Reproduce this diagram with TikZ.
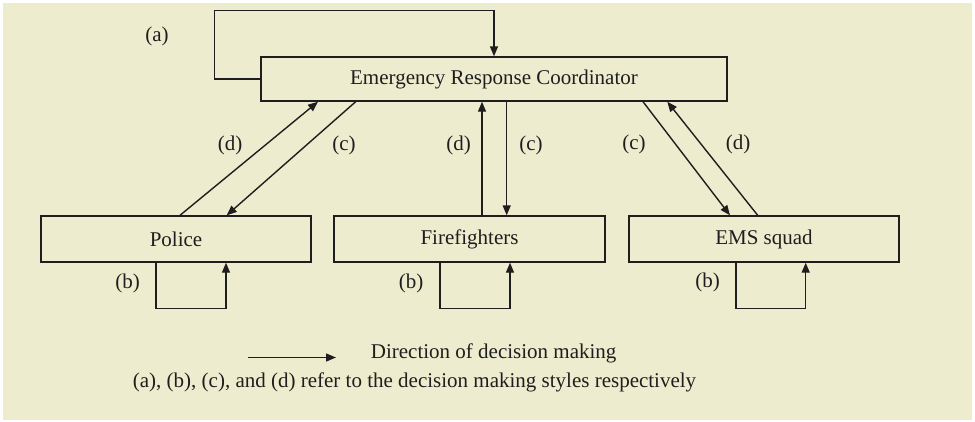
\documentclass[tikz,border=0pt]{standalone}
\usepackage{fontspec}
\setmainfont{Liberation Serif}
\usetikzlibrary{arrows.meta}
\definecolor{paper}{RGB}{238,236,206}
\definecolor{ink}{RGB}{30,30,30}
\begin{document}
\begin{tikzpicture}[x=1pt,y=-1pt,
  every node/.style={font=\fontsize{21}{25}\selectfont, text=ink},
  unitbox/.style={draw=ink, line width=1.4pt, inner sep=0pt, minimum height=46pt},
  arr/.style={draw=ink, line width=1.4pt, -{Triangle[length=10pt,width=8pt]}},
  lbl/.style={inner sep=0pt}]
  % canvas
  \useasboundingbox (0,0) rectangle (975,421);
  \fill[white] (0,0) rectangle (975,421);
  \fill[paper] (3,3) rectangle (972,420);

  % units
  \node[unitbox, minimum width=466pt, minimum height=44pt] (erc) at (494,79) {Emergency Response Coordinator};
  \node[unitbox, minimum width=270pt] (police) at (176,239) {Police};
  \node[unitbox, minimum width=271pt] (fire) at (469.5,239) {Firefighters};
  \node[unitbox, minimum width=270pt] (ems) at (764,239) {EMS squad};

  % (a) coordinator self loop
  \draw[arr] (erc.west) -- ++(-46,0) |- ([yshift=46pt]erc.north) -- (erc.north);
  \node[lbl] (la) at (157,36) {(a)};

  % police links
  \draw[arr] ([xshift=4pt]police.north) -- ([xshift=-176pt]erc.south);
  \draw[arr] ([xshift=-138.3pt]erc.south) -- ([xshift=50.7pt]police.north);
  \node[lbl] (lpd) at (230,145) {(d)};
  \node[lbl] (lpc) at (344,145) {(c)};
  \draw[arr] ([xshift=-20pt]police.south) -- ++(0,46) -| ([xshift=50pt]police.south);
  \node[lbl] (lpb) at (127.5,283) {(b)};

  % firefighter links
  \draw[arr] ([xshift=12.5pt]fire.north) -- ([xshift=-12pt]erc.south);
  \draw[arr] ([xshift=12.7pt]erc.south) -- ([xshift=37.2pt]fire.north);
  \node[lbl] (lfd) at (458.7,145) {(d)};
  \node[lbl] (lfc) at (531,145) {(c)};
  \draw[arr] ([xshift=-29.5pt]fire.south) -- ++(0,46) -| ([xshift=40.5pt]fire.south);
  \node[lbl] (lfb) at (411,283) {(b)};

  % EMS links
  \draw[arr] ([xshift=149pt]erc.south) -- ([xshift=-34pt]ems.north);
  \draw[arr] ([xshift=-6.3pt]ems.north) -- ([xshift=173.3pt]erc.south);
  \node[lbl] (lec) at (634,144) {(c)};
  \node[lbl] (led) at (738,144) {(d)};
  \draw[arr] ([xshift=-28pt]ems.south) -- ++(0,46) -| ([xshift=41.7pt]ems.south);
  \node[lbl] (leb) at (707.5,282) {(b)};

  % legend
  \coordinate (legs) at (248,357.5);
  \coordinate (lege) at (336,357.5);
  \draw[arr] (legs) -- (lege);
  \node[lbl, anchor=base west] (legdir) at (370.7,358) {Direction of decision making};
  \node[lbl, anchor=base west] (legnote) at (132.7,387) {(a), (b), (c), and (d) refer to the decision making styles respectively};
\end{tikzpicture}
\end{document}
